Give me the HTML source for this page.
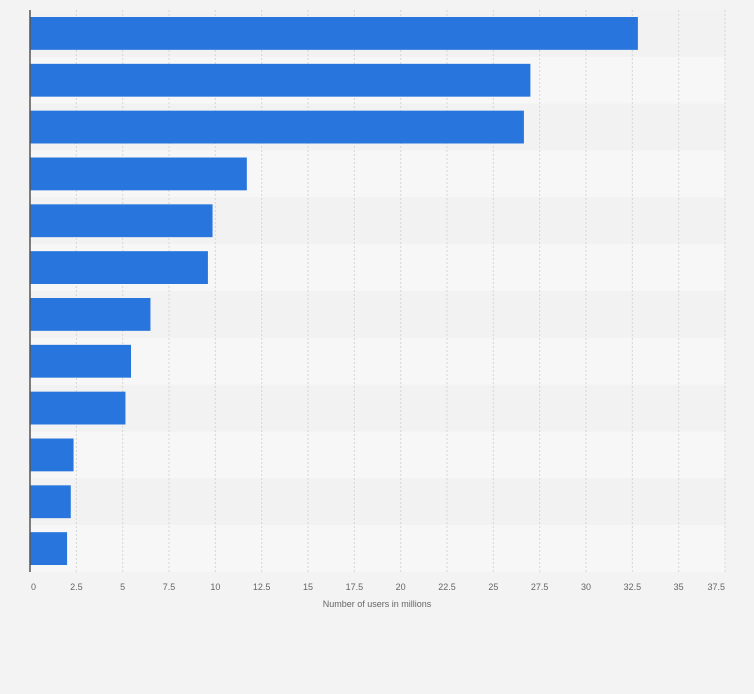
<!DOCTYPE html>
<html><head><meta charset="utf-8"><style>
body{margin:0;background:#f3f3f3;width:754px;height:689px;overflow:hidden;font-family:"Liberation Sans",sans-serif}
</style></head><body>
<svg width="754" height="689" id="c">
<rect x="0" y="0" width="754" height="689" fill="#f3f3f3"/>
</svg>
<script>
const categories=["A","B","C","D","E","F","G","H","I","J","K","L"];
const values=[32.8,27.0,26.65,11.7,9.85,9.6,6.5,5.45,5.15,2.35,2.2,2.0];
const ticks=[0,2.5,5,7.5,10,12.5,15,17.5,20,22.5,25,27.5,30,32.5,35,37.5];
const tickLabels=["0","2.5","5","7.5","10","12.5","15","17.5","20","22.5","25","27.5","30","32.5","35","37.5"];
const NS="http://www.w3.org/2000/svg",svg=document.getElementById('c');
const x0=30,x1=725,yTop=10,yBottom=572,xMax=37.5;
const xs=v=>x0+(x1-x0)*v/xMax;
const rowH=(yBottom-yTop)/categories.length;
const ys=i=>yTop+i*rowH;
function mk(t,a){const e=document.createElementNS(NS,t);for(const k in a)e.setAttribute(k,a[k]);svg.appendChild(e);return e;}
categories.forEach((c,i)=>{const r=mk('rect',{x:x0,y:ys(i),width:x1-x0,height:rowH,fill:i%2?'#f7f7f7':'#f2f2f2'});

});
ticks.forEach((t,i)=>{if(i>0){const l=mk('line',{x1:xs(t),x2:xs(t),y1:yTop,y2:yBottom,stroke:'#d6d6d6','stroke-dasharray':'2,2','stroke-width':1});

}
const anchor=i==0?'start':(i==ticks.length-1?'end':'middle');
const tx=mk('text',{x:i==0?xs(t)+1:xs(t),y:590,'font-size':9,fill:'#666','text-anchor':anchor});
tx.textContent=tickLabels[i];

});
values.forEach((v,i)=>{const b=mk('rect',{x:x0,y:ys(i)+7,width:xs(v)-x0,height:rowH-14,fill:'#2876dd'});

});
const ax=mk('line',{x1:x0,x2:x0,y1:yTop,y2:yBottom,stroke:'#555','stroke-width':1.5});


const tt=mk('text',{x:377,y:607,'font-size':9,fill:'#666','text-anchor':'middle'});
tt.textContent='Number of users in millions';


</script>
</body></html>
